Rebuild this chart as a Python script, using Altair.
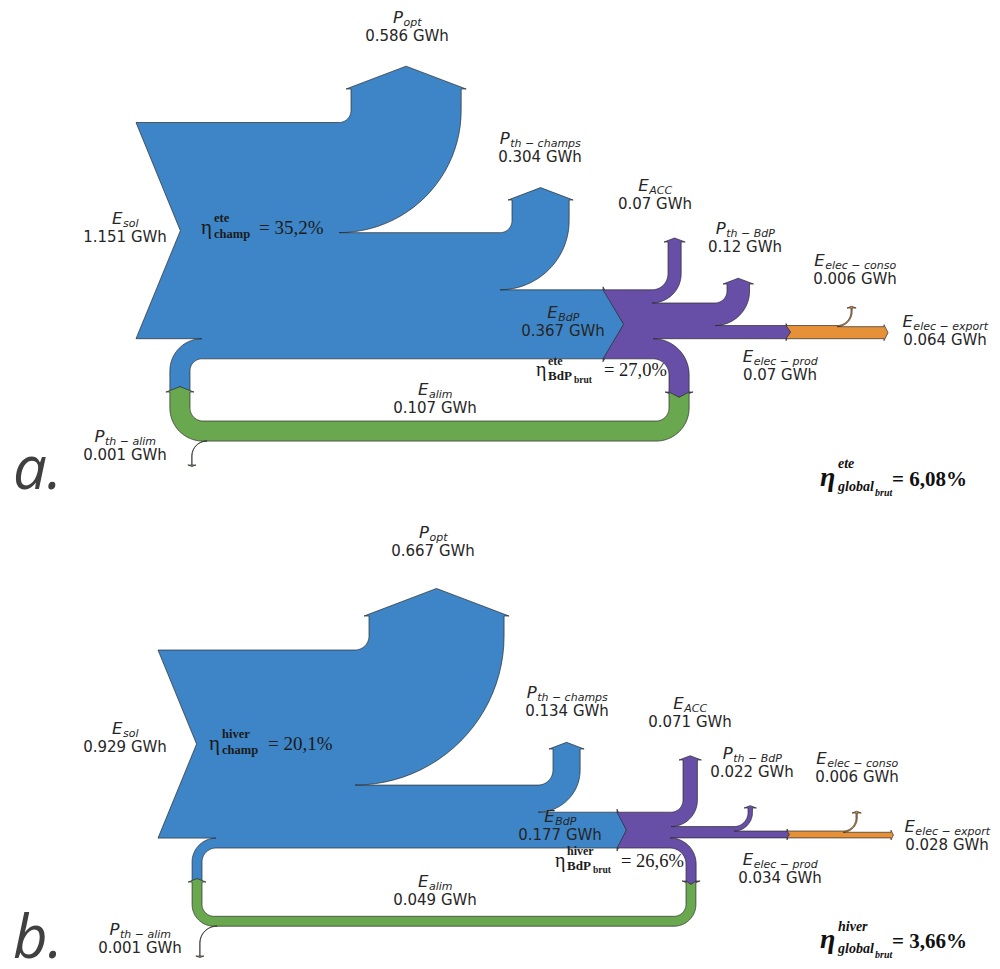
import math
import altair as alt
import pandas as pd

# ---------------- values (GWh) ----------------
panel_tags = ["a.", "b."]
season_tags = ["ete", "hiver"]
E_sol = [1.151, 0.929]
E_alim = [0.107, 0.049]
P_opt = [0.586, 0.667]
P_th_champs = [0.304, 0.134]
E_BdP = [0.367, 0.177]
E_ACC = [0.07, 0.071]
P_th_BdP = [0.12, 0.022]
E_elec_prod = [0.07, 0.034]
E_elec_conso = [0.006, 0.006]
E_elec_export = [0.064, 0.028]
P_th_alim = [0.001, 0.001]
eta_champ = ["35,2%", "20,1%"]
eta_bdp_brut = ["27,0%", "26,6%"]
eta_global_brut = ["6,08%", "3,66%"]

flow_values = {
    "E_sol": E_sol, "E_alim": E_alim, "P_opt": P_opt, "P_th_champs": P_th_champs,
    "E_BdP": E_BdP, "E_ACC": E_ACC, "P_th_BdP": P_th_BdP, "E_elec_prod": E_elec_prod,
    "E_elec_conso": E_elec_conso, "E_elec_export": E_elec_export, "P_th_alim": P_th_alim,
}
flow_symbols = {
    "E_sol": ("E", "sol"), "E_alim": ("E", "alim"), "P_opt": ("P", "opt"),
    "P_th_champs": ("P", "th \u2212 champs"), "E_BdP": ("E", "BdP"), "E_ACC": ("E", "ACC"),
    "P_th_BdP": ("P", "th \u2212 BdP"), "E_elec_prod": ("E", "elec \u2212 prod"),
    "E_elec_conso": ("E", "elec \u2212 conso"), "E_elec_export": ("E", "elec \u2212 export"),
    "P_th_alim": ("P", "th \u2212 alim"),
}

COL = {"blue": "#3d85c6", "purple": "#674ea7", "green": "#6aa84f", "orange": "#e69138"}
PV = 0.38  # arrow pitch for vertical arrows

# ---------------- layout (pixel geometry of each panel) ----------------
LAYOUT = [
    dict(k=188.0, T=122.5, xL=136.0,
         opt_xi=351, opt_r=12, opt_yb=89,
         pc_xi=512, pc_r=12, pc_yb=200,
         bdp_xe=603, ph=0.55,
         loop_xi=190, loop_r=12, loop_y=392,
         acc_xi=668, acc_r=16, acc_yb=242,
         ptb_xi=727, ptb_r=12, ptb_yb=284,
         prod_xe=786,
         al_xi=669, al_r=16, al_yb=392,
         co_xi=851, co_r=14, co_yb=308,
         exp_xe=884,
         g_band=421, g_r=13,
         pa_x=207, pa_r=15, pa_y=465),
    dict(k=202.5, T=650.0, xL=158.0,
         opt_xi=369, opt_r=14, opt_yb=616,
         pc_xi=553, pc_r=15, pc_yb=749,
         bdp_xe=617, ph=0.45,
         loop_xi=202, loop_r=14, loop_y=882,
         acc_xi=683, acc_r=12, acc_yb=760,
         ptb_xi=748, ptb_r=14, ptb_yb=808,
         prod_xe=787,
         al_xi=686, al_r=16, al_yb=881,
         co_xi=856, co_r=13, co_yb=813,
         exp_xe=891,
         g_band=916.3, g_r=12,
         pa_x=217, pa_r=17, pa_y=956),
]

LABELS = [
    {"P_opt": (407, 41), "P_th_champs": (540, 162), "E_sol": (125, 242), "E_ACC": (655, 209),
     "P_th_BdP": (745, 252), "E_elec_conso": (855, 284), "E_elec_export": (945, 345),
     "E_BdP": (563, 336), "E_elec_prod": (780, 380), "E_alim": (435, 413), "P_th_alim": (125, 460)},
    {"P_opt": (433, 556), "P_th_champs": (567, 716), "E_sol": (125, 752), "E_ACC": (690, 727),
     "P_th_BdP": (752, 777), "E_elec_conso": (857, 782), "E_elec_export": (947, 850),
     "E_BdP": (560, 840), "E_elec_prod": (780, 883), "E_alim": (435, 905), "P_th_alim": (140, 953)},
]


# ---------------- path helpers ----------------
class Pen:
    def __init__(self, x, y):
        self.pts = [(x, y)]

    def L(self, x, y):
        self.pts.append((x, y))

    def arc(self, cx, cy, r, a0, a1, n=24):
        for i in range(1, n + 1):
            a = math.radians(a0 + (a1 - a0) * i / n)
            self.pts.append((cx + r * math.cos(a), cy + r * math.sin(a)))

    def ring(self):
        pts = self.pts + [self.pts[0]]
        return [[round(x, 2), round(y, 2)] for x, y in pts]


def arrow_v(p, xa, xb, yb, direction, sh=4, pitch=PV):
    s = 1 if xb > xa else -1
    tl = pitch * (abs(xb - xa) / 2 + sh)
    p.L(xa, yb)
    p.L(xa - s * sh, yb)
    p.L((xa + xb) / 2, yb + direction * tl)
    p.L(xb + s * sh, yb)
    p.L(xb, yb)
    return tl


def arrow_right(p, xe, ya, yb, sh, pitch):
    tl = pitch * ((yb - ya) / 2 + sh)
    p.L(xe, ya)
    p.L(xe, ya - sh)
    p.L(xe + tl, (ya + yb) / 2)
    p.L(xe, yb + sh)
    p.L(xe, yb)
    return tl


def up_branch(p, y_top, w, xi, r, yb, sh=4):
    cx, cy = xi - r, y_top - r
    p.L(cx, y_top)
    p.arc(cx, cy, r, 90, 0)
    arrow_v(p, xi, xi + w, yb, -1, sh)
    p.L(xi + w, cy)
    p.arc(cx, cy, r + w, 0, 90)
    return y_top + w


def feature(ring, color):
    return {"type": "Feature", "properties": {"color": color},
            "geometry": {"type": "Polygon", "coordinates": [ring]}}


def panel_shapes(i):
    G = LAYOUT[i]
    k = G["k"]
    w = {name: vals[i] * k for name, vals in flow_values.items()}
    feats = []
    T, xL = G["T"], G["xL"]

    # ---- blue: solar field ----
    green_tip = PV * (w["E_alim"] / 2 + 4)
    p = Pen(xL, T)
    y = up_branch(p, T, w["P_opt"], G["opt_xi"], G["opt_r"], G["opt_yb"], sh=5)
    y = up_branch(p, y, w["P_th_champs"], G["pc_xi"], G["pc_r"], G["pc_yb"])
    y_bdp = y
    p.L(G["bdp_xe"], y)
    tip_bdp = arrow_right(p, G["bdp_xe"], y, y + w["E_BdP"], 3, G["ph"])
    B = y + w["E_BdP"]
    xi, r = G["loop_xi"], G["loop_r"]
    cx, cy = xi + r, B + r
    p.L(cx, B)
    p.arc(cx, cy, r, 270, 180)
    p.L(xi, G["loop_y"])
    p.L(xi - w["E_alim"] / 2, G["loop_y"] - green_tip)
    p.L(xi - w["E_alim"], G["loop_y"])
    p.L(xi - w["E_alim"], cy)
    p.arc(cx, cy, r + w["E_alim"], 180, 270)
    p.L(xL, B - w["E_alim"])
    p.L(xL + 0.41 * w["E_sol"] / 2, T + w["E_sol"] / 2)
    feats.append(feature(p.ring(), COL["blue"]))

    # ---- purple: heat pump ----
    x0 = G["bdp_xe"]
    p = Pen(x0, y_bdp)
    y = up_branch(p, y_bdp, w["E_ACC"], G["acc_xi"], G["acc_r"], G["acc_yb"])
    y = up_branch(p, y, w["P_th_BdP"], G["ptb_xi"], G["ptb_r"], G["ptb_yb"])
    y_prod = y
    p.L(G["prod_xe"], y)
    tip_prod = arrow_right(p, G["prod_xe"], y, y + w["E_elec_prod"], 2, G["ph"])
    y += w["E_elec_prod"]
    wa = B - y
    xi, r = G["al_xi"], G["al_r"]
    cx, cy = xi - r, B + r
    p.L(cx, y)
    p.arc(cx, cy, r + wa, 270, 360)
    arrow_v(p, xi + wa, xi, G["al_yb"], 1)
    p.L(xi, cy)
    p.arc(cx, cy, r, 360, 270)
    p.L(x0, B)
    p.L(x0 + tip_bdp, (y_bdp + B) / 2)
    feats.append(feature(p.ring(), COL["purple"]))

    # ---- orange: electricity ----
    x0 = G["prod_xe"]
    p = Pen(x0, y_prod)
    y = up_branch(p, y_prod, w["E_elec_conso"], G["co_xi"], G["co_r"], G["co_yb"])
    p.L(G["exp_xe"], y)
    arrow_right(p, G["exp_xe"], y, y_prod + w["E_elec_prod"], 2, 0.5)
    p.L(x0, y_prod + w["E_elec_prod"])
    p.L(x0 + tip_prod, y_prod + w["E_elec_prod"] / 2)
    feats.append(feature(p.ring(), COL["orange"]))

    # ---- green: feed loop ----
    wg = w["E_alim"]
    xr, yin, xl = G["al_xi"], G["al_yb"], G["loop_xi"]
    yband, rg = G["g_band"], G["g_r"]
    tip_in = PV * (wg / 2 + 4)
    p = Pen(xr, yin)
    p.L(xr + wg / 2, yin + tip_in)
    p.L(xr + wg, yin)
    cx, cy = xr - rg, yband - rg
    p.L(xr + wg, cy)
    p.arc(cx, cy, rg + wg, 0, 90)
    cx2 = xl + rg
    p.L(cx2, yband + wg)
    p.arc(cx2, cy, rg + wg, 90, 180)
    arrow_v(p, xl - wg, xl, G["loop_y"], -1)
    p.L(xl, cy)
    p.arc(cx2, cy, rg, 180, 90)
    p.L(cx, yband)
    p.arc(cx, cy, rg, 90, 0)
    feats.append(feature(p.ring(), COL["green"]))

    # ---- thin P_th_alim loss ----
    wt = max(w["P_th_alim"], 0.2)
    y0 = yband + wg
    cx, r = G["pa_x"], G["pa_r"]
    cy = y0 + r
    p = Pen(cx, y0 - wt)
    p.arc(cx, cy, r + wt, 270, 180)
    arrow_v(p, cx - r - wt, cx - r, G["pa_y"], 1)
    p.L(cx - r, cy)
    p.arc(cx, cy, r, 180, 270)
    feats.append(feature(p.ring(), COL["green"]))
    return feats


features = panel_shapes(0) + panel_shapes(1)

# ---------------- texts ----------------
DJV = {"a": .613, "b": .635, "c": .55, "d": .635, "e": .615, "h": .634, "i": .278, "l": .278,
       "m": .974, "n": .634, "o": .612, "p": .635, "r": .411, "s": .521, "t": .392, "x": .592,
       "A": .684, "B": .686, "C": .698, "E": .632, "P": .603, " ": .318, "\u2212": .838}


def tw(s, size):
    return sum(DJV.get(c, 0.6) for c in s) * size


MAIN_SZ, SUB_SZ = 16.5, 11
rows = []
for i in range(2):
    for name, (cx, yb) in LABELS[i].items():
        M, S = flow_symbols[name]
        wM, wS = tw(M, MAIN_SZ), tw(S, SUB_SZ)
        left = cx - (wM + wS) / 2
        rows.append(dict(x=left, y=yb - 18.5, t=M, s=MAIN_SZ, g="name"))
        rows.append(dict(x=left + wM + 0.5, y=yb - 15, t=S, s=SUB_SZ, g="name"))
        rows.append(dict(x=cx, y=yb, t=f"{flow_values[name][i]:g} GWh", s=15, g="val"))

# positions of the efficiency expressions: eta x, baseline, sup/sub x, sup baseline, sub baseline, ...
ETA_POS = [
    dict(c=(201, 234, 214, 222, 238, 259),
         b=(536, 376, 548, 365, 380, 574, 383, 604),
         g=(820, 486, 838, 468, 491, 875, 496, 892)),
    dict(c=(209, 750, 222, 738, 754, 268),
         b=(555, 867, 567, 855, 870, 593, 873, 621),
         g=(820, 948, 838, 931, 953, 875, 958, 892)),
]
for i in range(2):
    P = ETA_POS[i]
    sup = season_tags[i]
    x, yb, xs, ysup, ysub, xr = P["c"]
    rows += [dict(x=x, y=yb, t="\u03b7", s=21, g="eta"),
             dict(x=xs, y=ysup, t=sup, s=12.5, g="etab"),
             dict(x=xs, y=ysub, t="champ", s=12.5, g="etab"),
             dict(x=xr, y=yb, t="= " + eta_champ[i], s=19, g="eta")]
    x, yb, xs, ysup, ysub, xss, yss, xr = P["b"]
    rows += [dict(x=x, y=yb, t="\u03b7", s=20, g="eta"),
             dict(x=xs, y=ysup, t=sup, s=12, g="etab"),
             dict(x=xs, y=ysub, t="BdP", s=13, g="etab"),
             dict(x=xss, y=yss, t="brut", s=9.5, g="etab"),
             dict(x=xr, y=yb, t="= " + eta_bdp_brut[i], s=18.5, g="eta")]
    x, yb, xs, ysup, ysub, xss, yss, xr = P["g"]
    rows += [dict(x=x, y=yb, t="\u03b7", s=28, g="glob"),
             dict(x=xs, y=ysup, t=sup, s=14, g="glob"),
             dict(x=xs, y=ysub, t="global", s=14, g="glob"),
             dict(x=xss, y=yss, t="brut", s=10, g="glob"),
             dict(x=xr, y=yb, t="= " + eta_global_brut[i], s=21, g="globr")]
    rows.append(dict(x=13, y=[489, 958][i], t=panel_tags[i], s=60, g="panel"))

tdf = pd.DataFrame(rows)

STYLES = {
    "val": dict(font="DejaVu Sans", fontStyle="normal", fontWeight="normal", align="center", color="#262626"),
    "name": dict(font="DejaVu Sans", fontStyle="italic", fontWeight="normal", align="left", color="#262626"),
    "eta": dict(font="Liberation Serif", fontStyle="normal", fontWeight="normal", align="left", color="#1a1a1a"),
    "etab": dict(font="Liberation Serif", fontStyle="normal", fontWeight="bold", align="left", color="#1a1a1a"),
    "glob": dict(font="Liberation Serif", fontStyle="italic", fontWeight="bold", align="left", color="#111111"),
    "globr": dict(font="Liberation Serif", fontStyle="normal", fontWeight="bold", align="left", color="#111111"),
    "panel": dict(font="Open Sans", fontStyle="italic", fontWeight="normal", align="left", color="#404040"),
}

shapes = alt.Chart(alt.Data(values=features)).mark_geoshape(
    stroke="#2b2b2b", strokeWidth=0.7
).encode(fill=alt.Fill("properties.color:N", scale=None))

text_layers = []
for g, st in STYLES.items():
    sub = tdf[tdf["g"] == g]
    text_layers.append(
        alt.Chart(sub).mark_text(baseline="alphabetic", **st).encode(
            longitude="x:Q", latitude="y:Q", text="t:N",
            size=alt.Size("s:Q", scale=None),
        )
    )

proj = alt.Projection(type="identity", scale=1, translate=[-8, -8])
chart = alt.layer(shapes, *text_layers).properties(
    width=984, height=953, projection=proj, padding=0,
    autosize=alt.AutoSizeParams(type="none"),
).configure_view(stroke=None)

chart.save("out.html", embed_options={"renderer": "svg", "actions": False})
